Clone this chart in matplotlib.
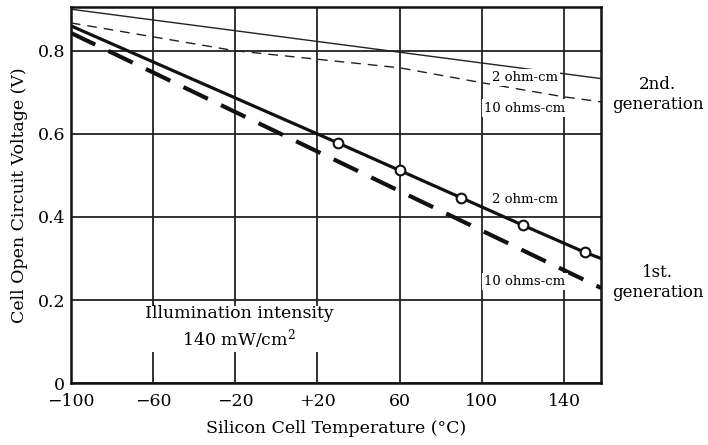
import matplotlib.pyplot as plt

plt.rcParams['font.family'] = ['DejaVu Serif']
plt.rcParams['mathtext.fontset'] = 'dejavuserif'

# 2nd generation (thin lines)
temp_2nd = [-100, 158]
v_2nd_2ohm = [0.900, 0.733]
temp_2nd_10 = [-100, -20, 60, 100, 140, 158]
v_2nd_10ohm = [0.867, 0.800, 0.759, 0.723, 0.689, 0.677]

# 1st generation (thick lines)
temp_1st = [-100, 30, 60, 90, 120, 150, 158]
v_1st_2ohm = [0.860, 0.578, 0.512, 0.446, 0.380, 0.315, 0.300]
marker_temp = [30, 60, 90, 120, 150]
marker_v = [0.578, 0.512, 0.446, 0.380, 0.315]
temp_1st_10 = [-100, 158]
v_1st_10ohm = [0.843, 0.229]

xticks = [-100, -60, -20, 20, 60, 100, 140]
xtick_labels = ['\u2212100', '\u221260', '\u221220', '+20', '60', '100', '140']
yticks = [0, 0.2, 0.4, 0.6, 0.8]
ytick_labels = ['0', '0.2', '0.4', '0.6', '0.8']

fig = plt.figure(figsize=(7.08, 4.45), dpi=100)
ax = fig.add_axes([0.100, 0.139, 0.749, 0.845])

ax.set_xlim(-100, 158)
ax.set_ylim(0, 0.905)
ax.set_xticks(xticks)
ax.set_xticklabels(xtick_labels)
ax.set_yticks(yticks)
ax.set_yticklabels(ytick_labels)
ax.tick_params(length=0, labelsize=12.5)
ax.tick_params(axis='x', pad=7)
ax.tick_params(axis='y', pad=4)
ax.grid(True, color='#222222', linewidth=1.3)
ax.set_axisbelow(True)
for s in ax.spines.values():
    s.set_linewidth(1.8)
    s.set_color('#111111')

ax.plot(temp_2nd, v_2nd_2ohm, color='#222222', linewidth=1.0, zorder=3)
ax.plot(temp_2nd_10, v_2nd_10ohm, color='#222222', linewidth=1.0,
        dashes=(7, 5), zorder=3)
ax.plot(temp_1st, v_1st_2ohm, color='#111111', linewidth=2.3, zorder=3)
ax.plot(marker_temp, marker_v, linestyle='none', marker='o', markersize=7,
        markerfacecolor='white', markeredgecolor='#111111', markeredgewidth=1.5,
        zorder=4)
ax.plot(temp_1st_10, v_1st_10ohm, color='#111111', linewidth=3.0,
        dashes=(6.5, 3.5), zorder=3)

box = dict(facecolor='white', edgecolor='none', pad=1.5)
ax.text(121, 0.735, '2 ohm-cm', fontsize=9.5, ha='center', va='center', bbox=box, zorder=5)
ax.text(121, 0.662, '10 ohms-cm', fontsize=9.5, ha='center', va='center', bbox=box, zorder=5)
ax.text(121, 0.443, '2 ohm-cm', fontsize=9.5, ha='center', va='center', bbox=box, zorder=5)
ax.text(121, 0.245, '10 ohms-cm', fontsize=9.5, ha='center', va='center', bbox=box, zorder=5)
ax.text(-18, 0.133, 'Illumination intensity\n140 mW/cm$^2$', fontsize=12.5,
        ha='center', va='center', linespacing=1.3,
        bbox=dict(facecolor='white', edgecolor='none', pad=0.5), zorder=5)

fig.text(0.929, 0.788, '2nd.\ngeneration', fontsize=12, ha='center', va='center',
         linespacing=1.2)
fig.text(0.929, 0.365, '1st.\ngeneration', fontsize=12, ha='center', va='center',
         linespacing=1.2)

ax.set_xlabel('Silicon Cell Temperature (\u00b0C)', fontsize=12.5, labelpad=7)
ax.set_ylabel('Cell Open Circuit Voltage (V)', fontsize=12.5, labelpad=7)

fig.savefig('out.png', dpi=100)
